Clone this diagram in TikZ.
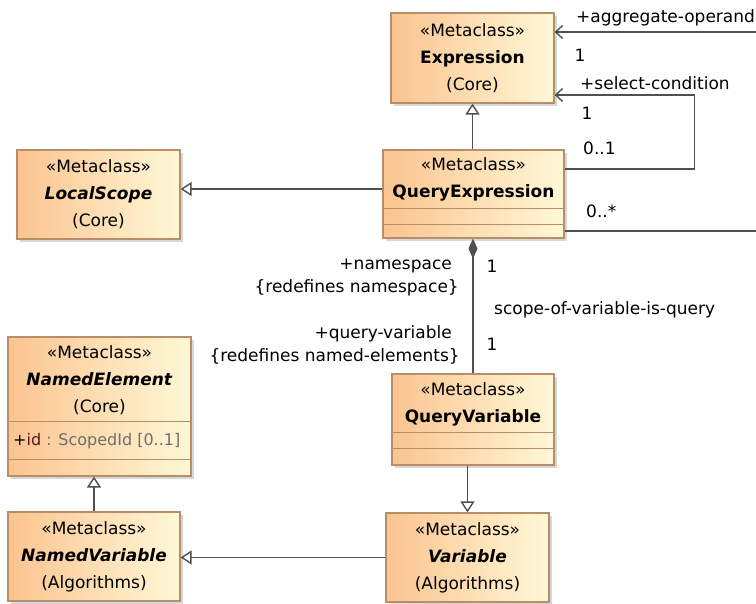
\documentclass[tikz,border=0pt]{standalone}
\usepackage{fontspec}
\setmainfont{DejaVu Sans}
\usetikzlibrary{arrows.meta,shadows}
\definecolor{boxleft}{RGB}{251,196,144}
\definecolor{boxright}{RGB}{255,248,214}
\definecolor{boxline}{RGB}{184,142,104}
\definecolor{linkline}{RGB}{80,80,80}
\definecolor{attrgray}{RGB}{110,110,110}
\definecolor{attrred}{RGB}{90,20,20}
\newcommand{\umlfont}{\fontsize{17}{27}\selectfont}
\tikzset{
  metaclass/.style={draw=boxline, line width=1.2pt, left color=boxleft, right color=boxright,
    drop shadow={shadow xshift=3pt, shadow yshift=-3pt, fill=black!30},
    align=center, font=\umlfont, inner sep=0pt},
  classtext/.style={align=center, font=\umlfont, inner sep=0pt},
  comptline/.style={draw=boxline, line width=1.2pt},
  gen/.style={draw=linkline, line width=1.4pt, -{Triangle[open, length=11pt, width=14pt, fill=white]}},
  nav/.style={draw=linkline, line width=1.4pt, -{Straight Barb[length=7pt, width=13pt]}},
  comp/.style={draw=linkline, line width=1.4pt, {Diamond[length=20pt, width=9pt]}-},
  plain/.style={draw=linkline, line width=1.4pt},
  lbl/.style={font=\umlfont, inner sep=0pt}
}
\begin{document}
\begin{tikzpicture}[x=1pt, y=-1pt]
	\useasboundingbox (0,0) rectangle (756,604);
	% classes
	\node[metaclass, minimum width=163pt, minimum height=90pt] (expr) at (472.5,58) {«Metaclass»\\\textbf{Expression}\\(Core)};
	\node[metaclass, minimum width=181pt, minimum height=88pt] (qexpr) at (473.5,194) {};
	\node[classtext] (qexprname) at (473.5,179) {«Metaclass»\\\textbf{QueryExpression}};
	\draw[comptline] ([yshift=-59pt]qexpr.north west) -- ([yshift=-59pt]qexpr.north east);
	\draw[comptline] ([yshift=-75pt]qexpr.north west) -- ([yshift=-75pt]qexpr.north east);
	\node[metaclass, minimum width=163pt, minimum height=89pt] (lscope) at (98.5,194.5) {«Metaclass»\\\textbf{\textit{LocalScope}}\\(Core)};
	\node[metaclass, minimum width=183pt, minimum height=139pt] (nelem) at (99.5,406.5) {};
	\node[classtext] (nelemname) at (99.5,380) {«Metaclass»\\\textbf{\textit{NamedElement}}\\(Core)};
	\draw[comptline] ([yshift=-85pt]nelem.north west) -- ([yshift=-85pt]nelem.north east);
	\draw[comptline] ([yshift=-123pt]nelem.north west) -- ([yshift=-123pt]nelem.north east);
	\node[lbl, anchor=west, font=\fontsize{16}{20}\selectfont] (nelemattr) at (13,441) {+\textcolor{attrred}{id}\textcolor{attrgray}{\ : ScopedId [0..1]}};
	\node[metaclass, minimum width=172pt, minimum height=89pt] (nvar) at (94,556.5) {«Metaclass»\\\textbf{\textit{NamedVariable}}\\(Algorithms)};
	\node[metaclass, minimum width=162pt, minimum height=91pt] (qvar) at (473,419.5) {};
	\node[classtext] (qvarname) at (473,404) {«Metaclass»\\\textbf{QueryVariable}};
	\draw[comptline] ([yshift=-59pt]qvar.north west) -- ([yshift=-59pt]qvar.north east);
	\draw[comptline] ([yshift=-75pt]qvar.north west) -- ([yshift=-75pt]qvar.north east);
	\node[metaclass, minimum width=163pt, minimum height=89pt] (var) at (467.5,557.5) {«Metaclass»\\\textbf{\textit{Variable}}\\(Algorithms)};
	
	% generalizations
	\draw[gen] (qexpr.north -| expr.south) -- (expr.south);
	\draw[gen] ([yshift=5pt]qexpr.west) -- ([yshift=5pt]qexpr.west -| lscope.east);
	\draw[gen] (qvar.south -| var.north) -- (var.north);
	\draw[gen] (var.west) -- (var.west -| nvar.east);
	\draw[gen] (nvar.north) -- (nvar.north |- nelem.south);
	
	% associations
	\coordinate (aggend) at (756,32);
	\coordinate (opend) at (756,231);
	\draw[nav] (aggend) -- (aggend -| expr.east);
	\draw[nav] ([yshift=25pt]qexpr.east) -- ++(130,0) |- ([yshift=-37pt]expr.east);
	\draw[plain] ([yshift=-37pt]qexpr.east) -- (opend);
	\draw[comp] (qvar.north |- qexpr.south) -- (qvar.north);
	
	\node[lbl, anchor=west] (aggname) at (576,18) {+aggregate-operand};
	\node[lbl] (aggmult) at (580,55) {1};
	\node[lbl, anchor=west] (selname) at (580,83) {+select-condition};
	\node[lbl] (selmult) at (587,113) {1};
	\node[lbl, anchor=west] (selsrc) at (583,148) {0..1};
	\node[lbl, anchor=west] (opmult) at (586,211) {0..*};
	\node[lbl, anchor=east] (nsname) at (452,266) {+namespace};
	\node[lbl, anchor=east] (nsredef) at (459,288) {\{redefines namespace\}};
	\node[lbl] (nsmult) at (492,266) {1};
	\node[lbl, anchor=west] (assocname) at (494,310) {scope-of-variable-is-query};
	\node[lbl, anchor=east] (qvname) at (452,334) {+query-variable};
	\node[lbl, anchor=east] (qvredef) at (460,356) {\{redefines named-elements\}};
	\node[lbl] (qvmult) at (492,344) {1};
\end{tikzpicture}
\end{document}
